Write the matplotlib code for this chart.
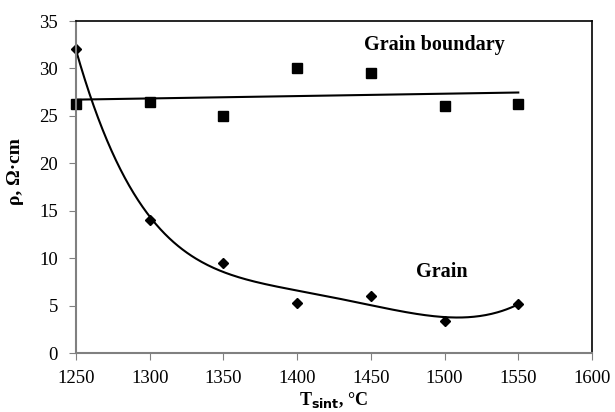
import numpy as np
import matplotlib.pyplot as plt

plt.rcParams["font.family"] = ["Liberation Serif", "DejaVu Serif"]

# Sintering temperature, deg C
T_sint = np.array([1250, 1300, 1350, 1400, 1450, 1500, 1550])
# Resistivity, Ohm*cm
rho_gb = np.array([26.3, 26.5, 25.0, 30.0, 29.5, 26.0, 26.3])
rho_grain = np.array([32.0, 14.0, 9.5, 5.3, 6.0, 3.4, 5.2])

fig = plt.figure(figsize=(6.15, 4.12), dpi=100)
ax = fig.add_axes([76 / 615, 1 - 353 / 412, 516 / 615, 332 / 412])

# Trend lines (linear for grain boundary, polynomial for grain)
xs = np.linspace(1250, 1550, 300)
u = (T_sint - 1400) / 150
us = (xs - 1400) / 150
p_gb = np.polyfit(u, rho_gb, 1)
p_gr = np.polyfit(u, rho_grain, 5)
ax.plot(xs, np.polyval(p_gb, us), color="black", lw=1.5)
ax.plot(xs, np.polyval(p_gr, us), color="black", lw=1.5)

ax.plot(T_sint, rho_gb, "s", color="black", ms=6.5, clip_on=False)
ax.plot(T_sint, rho_grain, "D", color="black", ms=5, clip_on=False)

ax.text(1493, 32.5, "Grain boundary", ha="center", va="center",
        fontsize=14.5, fontweight="bold")
ax.text(1498, 8.5, "Grain", ha="center", va="center",
        fontsize=14.5, fontweight="bold")

ax.set_xlim(1250, 1600)
ax.set_ylim(0, 35)
ax.set_xticks(np.arange(1250, 1601, 50))
ax.set_yticks(np.arange(0, 36, 5))
ax.tick_params(direction="out", length=5, color="#808080", labelsize=13.5)
ax.tick_params(axis="x", pad=7)
ax.tick_params(axis="y", pad=8)

for s in ["left", "bottom"]:
    ax.spines[s].set_color("#808080")
    ax.spines[s].set_linewidth(1.5)
for s in ["top", "right"]:
    ax.spines[s].set_color("black")
    ax.spines[s].set_linewidth(1.2)

ax.set_xlabel(r"T$_{\mathbf{sint}}$, °C", fontsize=13, fontweight="bold")
ax.xaxis.set_label_coords(0.5, -0.112)
ax.set_ylabel("ρ, Ω·cm", fontsize=14, fontweight="bold")
ax.yaxis.set_label_coords(-0.1, 0.548)

fig.savefig("out.png", dpi=100)
